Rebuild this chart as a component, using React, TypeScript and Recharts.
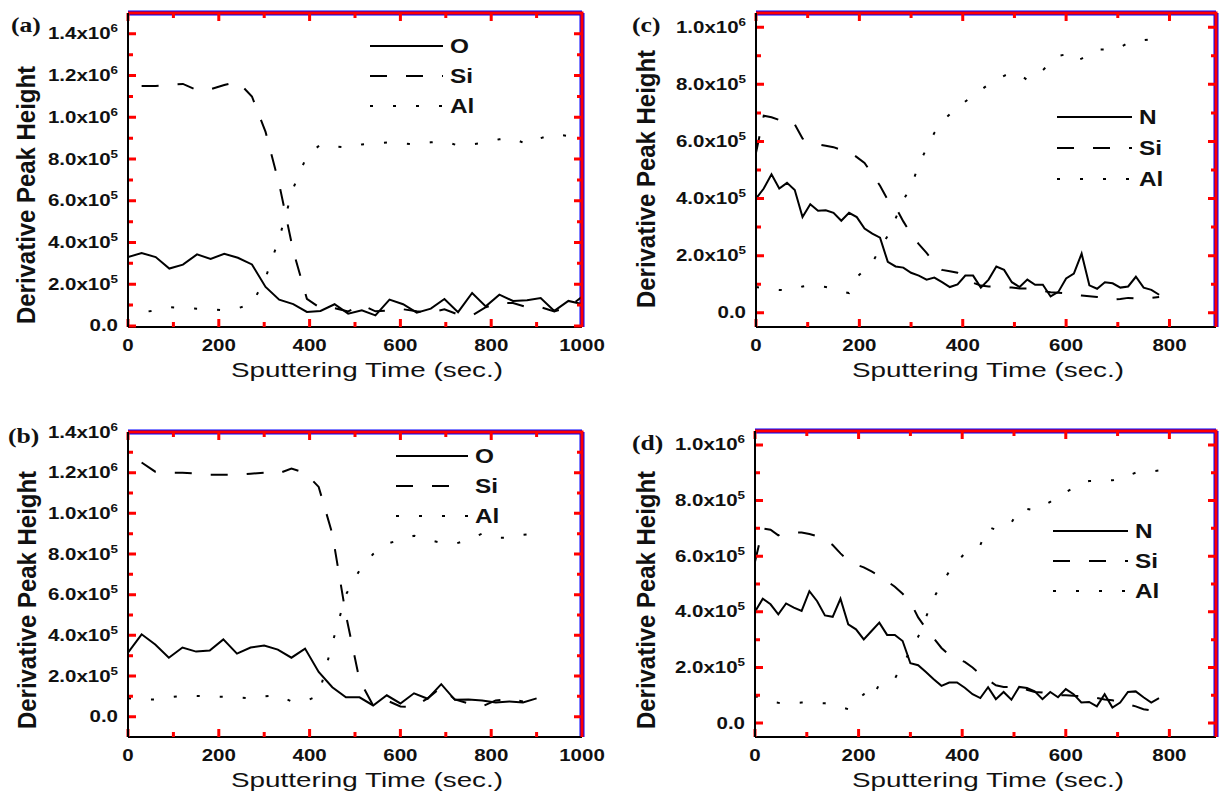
import React from 'react';
import { LineChart, Line, XAxis, YAxis, Legend, Label, ReferenceLine } from 'recharts';

const SANS = '"Liberation Sans", Arial, Helvetica, sans-serif';
const SERIF = '"Liberation Serif", "Times New Roman", serif';
const INK = '#111';

// all peak heights are in units of 1e5

// (a) O / Si / Al, oxide film
const timesA = [0, 30, 61, 91, 121, 152, 182, 212, 242, 273, 303, 333, 364, 394, 424, 455, 485, 515, 545, 576, 606, 636, 667, 697, 727, 758, 788, 818, 848, 879, 909, 939, 970, 1000];
const oxygenA = [3.3, 3.49, 3.3, 2.75, 2.94, 3.43, 3.21, 3.46, 3.27, 2.95, 1.87, 1.26, 1.05, 0.67, 0.72, 1.04, 0.59, 0.75, 0.51, 1.26, 1.04, 0.64, 0.83, 1.29, 0.66, 1.58, 0.94, 1.5, 1.2, 1.23, 1.34, 0.72, 1.2, 1.05];
const siliconA = [null, 11.5, 11.5, 11.55, 11.6, 11.3, 11.35, 11.55, 11.7, 11.0, 9.3, 6.8, 3.6, 1.3, 0.85, 0.85, 0.7, 1.0, 0.7, 0.75, 0.8, 0.7, 0.65, 0.8, 0.55, 0.5, 0.9, 1.1, 1.1, 0.9, 0.9, 0.7, 0.9, 1.4];
const aluminumA = [1.05, 0.65, 0.75, 0.9, 0.85, 0.83, 0.8, 0.75, 0.85, 1.05, 2.3, 4.2, 6.6, 8.15, 8.7, 8.6, 8.55, 8.7, 8.75, 8.8, 8.75, 8.7, 8.8, 8.85, 8.65, 8.7, 8.8, 8.95, 9.0, 8.7, 9.0, 9.2, 9.1, 8.95];

// (b)
const timesB = [0, 30, 60, 90, 120, 150, 180, 210, 240, 270, 300, 330, 360, 390, 420, 450, 480, 510, 540, 570, 600, 630, 660, 690, 720, 750, 780, 810, 840, 870, 900];
const oxygenB = [3.15, 4.05, 3.55, 2.9, 3.4, 3.2, 3.25, 3.8, 3.1, 3.4, 3.5, 3.3, 2.9, 3.35, 2.2, 1.45, 0.95, 0.95, 0.55, 1.05, 0.65, 1.15, 0.88, 1.6, 0.83, 0.85, 0.8, 0.7, 0.75, 0.7, 0.9];
const siliconB = [null, 12.5, 12.05, 12.0, 12.0, 11.95, 11.9, 11.9, 11.9, 11.95, 12.0, 11.95, 12.2, 12.0, 11.3, 9.0, 5.0, 1.8, 0.55, 0.8, 0.5, 0.48, 0.9, 1.45, 0.85, 0.65, 0.5, 0.8, 0.85, 0.75, null];
const aluminumB = [0.9, 0.85, 0.85, 0.95, 1.02, 1.02, 1.0, 0.98, 0.95, 0.9, 1.0, 1.05, 0.75, 0.75, 1.05, 3.6, 6.0, 7.2, 8.0, 8.5, 8.7, 8.9, 8.7, 8.55, 8.5, 8.7, 9.0, 8.8, 8.8, 8.95, 9.0];

// (c) and (d) share the 15 s sampling
const timesCD = [0, 15, 30, 45, 60, 75, 90, 105, 120, 135, 150, 165, 180, 195, 210, 225, 240, 255, 270, 285, 300, 315, 330, 345, 360, 375, 390, 405, 420, 435, 450, 465, 480, 495, 510, 525, 540, 555, 570, 585, 600, 615, 630, 645, 660, 675, 690, 705, 720, 735, 750, 765, 780];
const nitrogenC = [4.0, 4.35, 4.85, 4.35, 4.55, 4.3, 3.35, 3.8, 3.57, 3.59, 3.5, 3.22, 3.5, 3.35, 2.95, 2.77, 2.63, 1.78, 1.62, 1.58, 1.4, 1.3, 1.16, 1.23, 1.07, 0.9, 0.99, 1.3, 1.3, 0.88, 1.16, 1.62, 1.5, 1.07, 0.9, 1.16, 0.98, 0.98, 0.57, 0.73, 1.2, 1.37, 2.07, 0.96, 0.84, 1.07, 1.03, 0.88, 0.92, 1.26, 0.88, 0.8, 0.63];
const siliconC = [5.6, 6.9, 6.85, 6.75, 6.8, 6.6, 6.1, 5.95, 5.9, 5.85, 5.8, 5.7, 5.65, 5.45, 5.25, 4.85, 4.45, 3.95, 3.7, 3.2, 2.75, 2.4, 2.1, 1.75, 1.5, 1.45, 1.4, 1.25, 1.05, 0.95, 0.92, 0.92, 0.9, 0.88, 0.85, 0.85, 0.8, 0.76, 0.72, 0.7, 0.68, 0.62, 0.6, 0.58, 0.55, 0.52, 0.46, 0.48, 0.52, 0.5, 0.5, 0.52, 0.55];
const aluminumC = [0.9, 0.85, 0.84, 0.8, 0.78, 0.82, 0.92, 0.96, 0.93, 0.9, 0.85, 0.75, 0.69, 1.25, 1.5, 1.75, 2.25, 2.7, 3.3, 3.95, 4.4, 5.2, 5.75, 6.3, 6.7, 6.95, 7.2, 7.4, 7.6, 7.8, 8.0, 8.15, 8.3, 8.42, 8.35, 8.15, 8.3, 8.5, 8.75, 9.0, 9.05, 8.8, 8.9, 9.05, 9.22, 9.22, 9.2, 9.3, 9.45, 9.5, 9.55, 9.58, 9.55];

const nitrogenD = [4.0, 4.47, 4.27, 3.91, 4.3, 4.15, 4.03, 4.74, 4.38, 3.87, 3.82, 4.47, 3.55, 3.37, 3.01, 3.31, 3.61, 3.17, 3.17, 2.95, 2.15, 2.08, 1.84, 1.58, 1.34, 1.46, 1.46, 1.27, 1.04, 0.9, 1.29, 0.86, 1.12, 0.84, 1.3, 1.26, 1.14, 0.86, 1.12, 0.93, 1.22, 1.04, 0.74, 0.76, 0.6, 1.04, 0.56, 0.74, 1.12, 1.14, 0.93, 0.74, 0.9];
const siliconD = [5.8, 7.0, 6.95, 6.75, 6.85, 6.85, 6.85, 6.8, 6.72, 6.6, 6.4, 6.1, 5.85, 5.7, 5.6, 5.45, 5.3, 5.1, 4.9, 4.65, 4.35, 3.8, 3.4, 3.05, 2.7, 2.45, 2.3, 2.2, 2.0, 1.75, 1.55, 1.36, 1.3, 1.3, 1.32, 1.2, 1.12, 1.1, 1.05, 1.0, 1.0, 0.98, 0.97, 0.95, 0.9, 0.85, 0.82, 0.75, 0.68, 0.6, 0.5, 0.45, null];
const aluminumD = [0.98, 0.85, 0.76, 0.73, 0.71, 0.72, 0.74, 0.73, 0.72, 0.71, 0.65, 0.58, 0.5, 0.8, 1.04, 0.85, 1.4, 1.5, 1.6, 2.1, 2.6, 3.1, 3.8, 4.5, 5.0, 5.45, 5.8, 6.1, 6.25, 6.4, 7.05, 6.95, 7.1, 7.2, 7.7, 7.7, 7.65, 7.8, 7.95, 8.2, 8.3, 8.45, 8.65, 8.7, 8.7, 8.72, 8.73, 8.75, 8.9, 9.0, 9.02, 9.05, 9.08];

// ticks
const xMajorWide = [0, 200, 400, 600, 800, 1000];
const xMinorWide = [100, 300, 500, 700, 900];
const xMajorNarrow = [0, 200, 400, 600, 800];
const xMinorNarrow = [100, 300, 500, 700];
const yMajorTall = [0, 2, 4, 6, 8, 10, 12, 14];
const yMinorTall = [1, 3, 5, 7, 9, 11, 13];
const yMajorShort = [0, 2, 4, 6, 8, 10];
const yMinorShort = [1, 3, 5, 7, 9];

const xTitle = 'Sputtering Time (sec.)';
const yTitle = 'Derivative Peak Height';

const DASHES: Record<string, string | undefined> = { solid: undefined, dashed: '17 19', dotted: '3 20' };

const buildRows = (times: number[], cols: Record<string, (number | null)[]>) =>
  times.map((t, i) => {
    const row: Record<string, number | null> = { t };
    Object.keys(cols).forEach((k) => { row[k] = cols[k][i]; });
    return row;
  });

const yLabel = (v: number) => {
  if (v === 0) return { mant: '0.0', exp: '' };
  if (v < 10) return { mant: `${v.toFixed(1)}x10`, exp: '5' };
  return { mant: `${(v / 10).toFixed(1)}x10`, exp: '6' };
};

const panels = [
  {
    tag: '(a)',
    box: { left: 0, top: 0, width: 610, height: 400 },
    plot: { x0: 128, y0: 13, x1: 582, y1: 327 },
    rows: buildRows(timesA, { O: oxygenA, Si: siliconA, Al: aluminumA }),
    series: [['O', 'solid'], ['Si', 'dashed'], ['Al', 'dotted']],
    xDomain: [0, 1000], xMajor: xMajorWide, xMinor: xMinorWide,
    yDomain: [-0.05, 15], yMajor: yMajorTall, yMinor: yMinorTall,
    legend: { x: 370, y: 46, gap: 30, len: 73, textX: 450 },
    yTitlePos: { x: 35, y: 195 }, xTitlePos: { x: 367, y: 377 }, tagPos: { x: 11, y: 32 },
  },
  {
    tag: '(b)',
    box: { left: 0, top: 400, width: 610, height: 395 },
    plot: { x0: 128, y0: 432, x1: 582, y1: 737 },
    rows: buildRows(timesB, { O: oxygenB, Si: siliconB, Al: aluminumB }),
    series: [['O', 'solid'], ['Si', 'dashed'], ['Al', 'dotted']],
    xDomain: [0, 1000], xMajor: xMajorWide, xMinor: xMinorWide,
    yDomain: [-1, 14], yMajor: yMajorTall, yMinor: yMinorTall,
    legend: { x: 396, y: 456, gap: 30, len: 72, textX: 475 },
    yTitlePos: { x: 36, y: 600 }, xTitlePos: { x: 367, y: 787 }, tagPos: { x: 8, y: 443 },
  },
  {
    tag: '(c)',
    box: { left: 610, top: 0, width: 609, height: 400 },
    plot: { x0: 756, y0: 13, x1: 1216, y1: 327 },
    rows: buildRows(timesCD, { N: nitrogenC, Si: siliconC, Al: aluminumC }),
    series: [['N', 'solid'], ['Si', 'dashed'], ['Al', 'dotted']],
    xDomain: [0, 890], xMajor: xMajorNarrow, xMinor: xMinorNarrow,
    yDomain: [-0.5, 10.5], yMajor: yMajorShort, yMinor: yMinorShort,
    legend: { x: 1057, y: 117, gap: 31, len: 75, textX: 1139 },
    yTitlePos: { x: 655, y: 179 }, xTitlePos: { x: 988, y: 377 }, tagPos: { x: 632, y: 32 },
  },
  {
    tag: '(d)',
    box: { left: 610, top: 400, width: 609, height: 395 },
    plot: { x0: 755, y0: 431, x1: 1216, y1: 737 },
    rows: buildRows(timesCD, { N: nitrogenD, Si: siliconD, Al: aluminumD }),
    series: [['N', 'solid'], ['Si', 'dashed'], ['Al', 'dotted']],
    xDomain: [0, 890], xMajor: xMajorNarrow, xMinor: xMinorNarrow,
    yDomain: [-0.5, 10.5], yMajor: yMajorShort, yMinor: yMinorShort,
    legend: { x: 1053, y: 531, gap: 30, len: 75, textX: 1135 },
    yTitlePos: { x: 655, y: 600 }, xTitlePos: { x: 988, y: 787 }, tagPos: { x: 632, y: 450 },
  },
];

const axisLine = { stroke: '#000', strokeWidth: 2 };
const AXIS_W = 60;
const AXIS_H = 30;

function Panel({ p }: { p: (typeof panels)[number] }) {
  const { box, plot } = p;
  const margin = {
    left: plot.x0 - box.left - AXIS_W,
    right: box.left + box.width - plot.x1,
    top: plot.y0 - box.top,
    bottom: box.top + box.height - plot.y1 - AXIS_H,
  };
  const lx = (v: number) => v - box.left;
  const ly = (v: number) => v - box.top;
  const leftX = lx(plot.x0);
  const rightX = lx(plot.x1);
  const topY = ly(plot.y0);
  const bottomY = ly(plot.y1);
  const xTicks = [...p.xMajor, ...p.xMinor];
  const yTicks = [...p.yMajor, ...p.yMinor];

  // inward tick marks on all four sides plus the top/right edges of the box
  const frame = () => {
    const [xa, xb] = p.xDomain;
    const [ya, yb] = p.yDomain;
    const sx = (v: number) => leftX + ((v - xa) / (xb - xa)) * (rightX - leftX);
    const sy = (v: number) => bottomY - ((v - ya) / (yb - ya)) * (bottomY - topY);
    let d = `M${leftX},${topY}H${rightX}V${bottomY}`;
    xTicks.forEach((v) => {
      const len = p.xMajor.includes(v) ? 8 : 5;
      const x = sx(v);
      d += `M${x},${bottomY}V${bottomY - len}M${x},${topY}V${topY + len}`;
    });
    yTicks.forEach((v) => {
      const len = p.yMajor.includes(v) ? 8 : 5;
      const y = sy(v);
      d += `M${leftX},${y}H${leftX + len}M${rightX},${y}H${rightX - len}`;
    });
    return <path d={d} stroke="red" strokeWidth={3} fill="none" />;
  };

  const bottomTick = (props: any) => {
    const { x, y, payload } = props;
    if (!p.xMajor.includes(payload.value)) return <g />;
    return (
      <text transform={`translate(${x},${y + 24}) scale(1.28,1)`} textAnchor="middle"
        fontSize={16} fontWeight="bold" fontFamily={SANS} fill={INK}>{payload.value}</text>
    );
  };
  const leftTick = (props: any) => {
    const { x, y, payload } = props;
    if (!p.yMajor.includes(payload.value)) return <g />;
    const lab = yLabel(payload.value);
    return (
      <text transform={`translate(${x - 10},${y + 5.5}) scale(1.28,1)`} textAnchor="end"
        fontSize={16} fontWeight="bold" fontFamily={SANS} fill={INK}>
        {lab.mant}
        {lab.exp && <tspan dy={-7} fontSize={10.5}>{lab.exp}</tspan>}
      </text>
    );
  };

  const legendContent = () => (
    <svg width={140} height={100} style={{ overflow: 'visible' }}>
      {p.series.map(([name, style], i) => {
        const cy = 14 + i * p.legend.gap;
        return (
          <g key={name}>
            <line x1={0} y1={cy} x2={p.legend.len} y2={cy} stroke="#000" strokeWidth={2}
              strokeDasharray={DASHES[style]} />
            <text transform={`translate(${p.legend.textX - p.legend.x},${cy + 7}) scale(1.25,1)`}
              fontSize={19.5} fontWeight="bold" fontFamily={SANS} fill={INK}>{name}</text>
          </g>
        );
      })}
    </svg>
  );

  return (
    <div style={{ position: 'absolute', left: box.left, top: box.top }}>
      <LineChart width={box.width} height={box.height} data={p.rows} margin={margin}>
        <XAxis xAxisId="b" dataKey="t" type="number" domain={p.xDomain} allowDataOverflow
          ticks={xTicks} interval={0} tickSize={0} tickMargin={0} height={AXIS_H}
          axisLine={axisLine} tickLine={false} tick={bottomTick}>
          <Label content={() => (
            <text x={lx(p.xTitlePos.x)} y={ly(p.xTitlePos.y)} textAnchor="middle" fontSize={19.5}
              fontFamily={SANS} fill={INK} textLength={272} lengthAdjust="spacingAndGlyphs">{xTitle}</text>
          )} />
          <Label content={frame} />
        </XAxis>
        <YAxis yAxisId="l" type="number" domain={p.yDomain} allowDataOverflow
          ticks={yTicks} interval={0} tickSize={0} tickMargin={0} width={AXIS_W}
          axisLine={axisLine} tickLine={false} tick={leftTick}>
          <Label content={() => (
            <text transform={`translate(${lx(p.yTitlePos.x)},${ly(p.yTitlePos.y)}) rotate(-90)`}
              textAnchor="middle" fontSize={25} fontWeight="bold" fontFamily={SANS} fill={INK}
              textLength={258} lengthAdjust="spacingAndGlyphs">{yTitle}</text>
          )} />
          <Label content={() => (
            <text transform={`translate(${lx(p.tagPos.x)},${ly(p.tagPos.y)}) scale(1.25,1)`}
              fontSize={20.5} fontWeight="bold" fontFamily={SERIF} fill={INK}>{p.tag}</text>
          )} />
        </YAxis>
        <ReferenceLine xAxisId="b" yAxisId="l" y={p.yDomain[1]} ifOverflow="visible" stroke="blue" strokeWidth={5} />
        <ReferenceLine xAxisId="b" yAxisId="l" x={p.xDomain[1]} ifOverflow="visible" stroke="blue" strokeWidth={5} />
        <Legend layout="vertical" align="center" verticalAlign="middle" content={legendContent}
          wrapperStyle={{ left: lx(p.legend.x), top: ly(p.legend.y) - 14, width: 140 }} />
        {p.series.map(([name, style]) => (
          <Line key={name} xAxisId="b" yAxisId="l" dataKey={name} type="linear" stroke="#000"
            strokeWidth={2} strokeDasharray={DASHES[style]} dot={false} activeDot={false}
            isAnimationActive={false} />
        ))}
      </LineChart>
    </div>
  );
}

export default function App() {
  return (
    <div style={{ position: 'absolute', left: 0, top: 0, width: 1219, height: 795, background: '#fff' }}>
      {panels.map((p) => <Panel key={p.tag} p={p} />)}
    </div>
  );
}
